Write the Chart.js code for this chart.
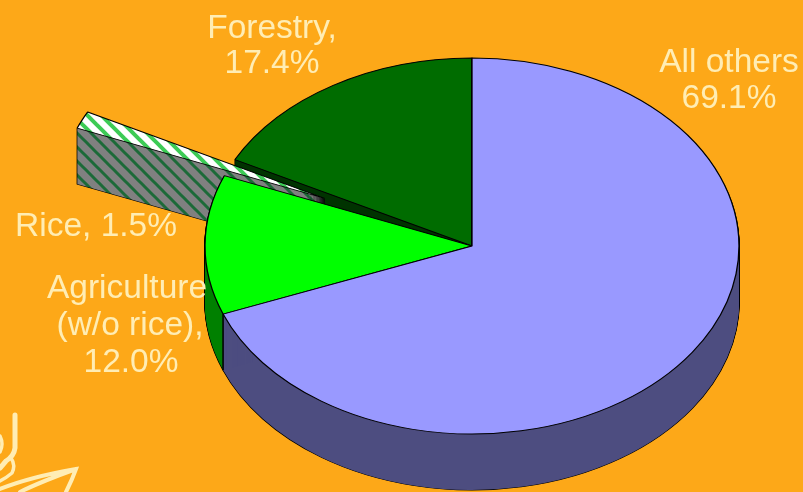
<!DOCTYPE html>
<html>
<head>
<meta charset="utf-8">
<title>Emission shares by sector</title>
<script src="https://cdn.jsdelivr.net/npm/chart.js@4/dist/chart.umd.js"></script>
<style>
  html, body { margin: 0; padding: 0; background: #FDA818; overflow: hidden; }
  canvas { display: block; }
</style>
</head>
<body>
<canvas id="pie" width="803" height="492"></canvas>
<script>
// Sector shares, in percent, clockwise from twelve o'clock.
const sectors = ['All others', 'Agriculture (w/o rice)', 'Rice', 'Forestry'];
const shares = [69.1, 12.0, 1.5, 17.4];

// Label wording, split over lines; the value is filled in from shares.
const labelLines = [['All others'], ['Agriculture', '(w/o rice),'], ['Rice,'], ['Forestry,']];

// Style settings.
const PAGE_BG = '#FDA818';
const TEXT_COLOR = '#FFEDB4';
const RADIUS_X = 267;
const RADIUS_Y = 188;
const DEPTH = 56;
const EXPLODE = [0, 0, 162, 0];
const PAINT_ORDER = [3, 2, 1, 0];

function hatch(ground, stripe, period, width) {
  const tile = document.createElement('canvas');
  tile.width = tile.height = period;
  const c = tile.getContext('2d');
  c.fillStyle = ground;
  c.fillRect(0, 0, period, period);
  c.strokeStyle = stripe;
  c.lineWidth = width;
  [-period, 0, period].forEach(s => {
    c.beginPath();
    c.moveTo(s - 2, -2);
    c.lineTo(s + period + 2, period + 2);
    c.stroke();
  });
  return c.createPattern(tile, 'repeat');
}

const riceTop = hatch('#FFFFFF', '#3CCB55', 14, 4);
const riceWall = hatch('#808080', '#1C6A38', 14, 3);
const topColors = ['#9999FF', '#00FF00', riceTop, '#006C00'];
const wallColors = ['#4D4D80', '#008000', riceWall, '#003300'];

// Paints one arc element through its own draw routine, tilted into an ellipse.
function paintArc(ctx, arc, index, style, drop) {
  const mid = (arc.startAngle + arc.endAngle) / 2;
  const tilt = RADIUS_Y / RADIUS_X;
  const saved = arc.options;
  ctx.save();
  ctx.translate(Math.cos(mid) * EXPLODE[index], Math.sin(mid) * EXPLODE[index] * tilt + drop);
  ctx.translate(arc.x, arc.y);
  ctx.scale(1, tilt);
  ctx.translate(-arc.x, -arc.y);
  if (style.backgroundColor instanceof CanvasPattern) {
    style.backgroundColor.setTransform(ctx.getTransform().inverse());
  }
  arc.options = Object.assign(Object.create(saved), style);
  arc.draw(ctx);
  arc.options = saved;
  ctx.restore();
}

const tiltedPie = {
  id: 'tiltedPie',
  beforeDatasetsDraw(chart) {
    const ctx = chart.ctx;
    const arcs = chart.getDatasetMeta(0).data;
    PAINT_ORDER.forEach(i => {
      const arc = arcs[i];
      // Black silhouette first, then the wall colour stacked downwards so every
      // wall pixel ends on a fully covering fill.
      for (let d = DEPTH; d >= 1; d--) {
        paintArc(ctx, arc, i, { backgroundColor: '#000', borderColor: '#000', borderWidth: 1.5 }, d);
      }
      for (let d = 1; d <= DEPTH; d++) {
        paintArc(ctx, arc, i, { backgroundColor: wallColors[i], borderWidth: 0 }, d);
      }
      paintArc(ctx, arc, i, { backgroundColor: topColors[i], borderColor: '#000', borderWidth: 1.3 }, 0);
    });

    // Seam between the two front walls, at the end of the first slice.
    const seam = arcs[0];
    const sx = seam.x + Math.cos(seam.endAngle) * RADIUS_X;
    const sy = seam.y + Math.sin(seam.endAngle) * RADIUS_Y;
    ctx.save();
    ctx.strokeStyle = '#000';
    ctx.lineWidth = 1.2;
    ctx.beginPath();
    ctx.moveTo(sx, sy);
    ctx.lineTo(sx, sy + DEPTH);
    ctx.stroke();
    ctx.restore();
    return false;
  },
  afterDraw(chart) {
    const ctx = chart.ctx;
    ctx.save();
    ctx.fillStyle = TEXT_COLOR;
    ctx.font = '33.5px "Liberation Sans", Arial, sans-serif';
    ctx.textAlign = 'center';
    ctx.textBaseline = 'alphabetic';
    const pct = i => shares[i].toFixed(1) + '%';
    const blocks = [
      { lines: [labelLines[0][0], pct(0)], x: [729, 729], y: [72, 108] },
      { lines: [labelLines[3][0], pct(3)], x: [272, 272], y: [38, 73] },
      { lines: [labelLines[2][0] + ' ' + pct(2)], x: [96], y: [236] },
      { lines: [labelLines[1][0], labelLines[1][1], pct(1)], x: [127, 130, 131], y: [298, 335, 372] }
    ];
    blocks.forEach(b => b.lines.forEach((t, k) => ctx.fillText(t, b.x[k], b.y[k])));

    // Corner emblem, cropped by the page edge.
    ctx.strokeStyle = TEXT_COLOR;
    ctx.fillStyle = TEXT_COLOR;
    ctx.lineCap = 'round';
    ctx.lineWidth = 5;
    ctx.beginPath();
    ctx.moveTo(15, 415);
    ctx.lineTo(15, 448);
    ctx.quadraticCurveTo(14, 456, 6, 461);
    ctx.lineTo(0, 468);
    ctx.stroke();
    ctx.lineWidth = 3.5;
    ctx.beginPath();
    ctx.moveTo(0, 436);
    ctx.quadraticCurveTo(4, 444, 0, 452);
    ctx.moveTo(11, 458);
    ctx.quadraticCurveTo(16, 465, 12, 473);
    ctx.quadraticCurveTo(6, 478, 0, 481);
    ctx.stroke();
    ctx.lineWidth = 4;
    ctx.beginPath();
    ctx.moveTo(0, 489);
    ctx.quadraticCurveTo(30, 477, 76, 469);
    ctx.quadraticCurveTo(72, 480, 66, 492);
    ctx.moveTo(76, 469);
    ctx.quadraticCurveTo(40, 482, 20, 492);
    ctx.stroke();
    ctx.restore();
  }
};

new Chart(document.getElementById('pie'), {
  type: 'pie',
  data: {
    labels: sectors,
    datasets: [{
      data: shares,
      backgroundColor: topColors,
      borderColor: '#000000',
      borderWidth: 1,
      radius: RADIUS_X
    }]
  },
  options: {
    responsive: false,
    animation: false,
    events: [],
    layout: { padding: { left: 141 } },
    plugins: {
      legend: { display: false },
      tooltip: { enabled: false }
    }
  },
  plugins: [{
    id: 'pageBackground',
    beforeDraw(chart) {
      chart.ctx.fillStyle = PAGE_BG;
      chart.ctx.fillRect(0, 0, chart.width, chart.height);
    }
  }, tiltedPie]
});
</script>
</body>
</html>
